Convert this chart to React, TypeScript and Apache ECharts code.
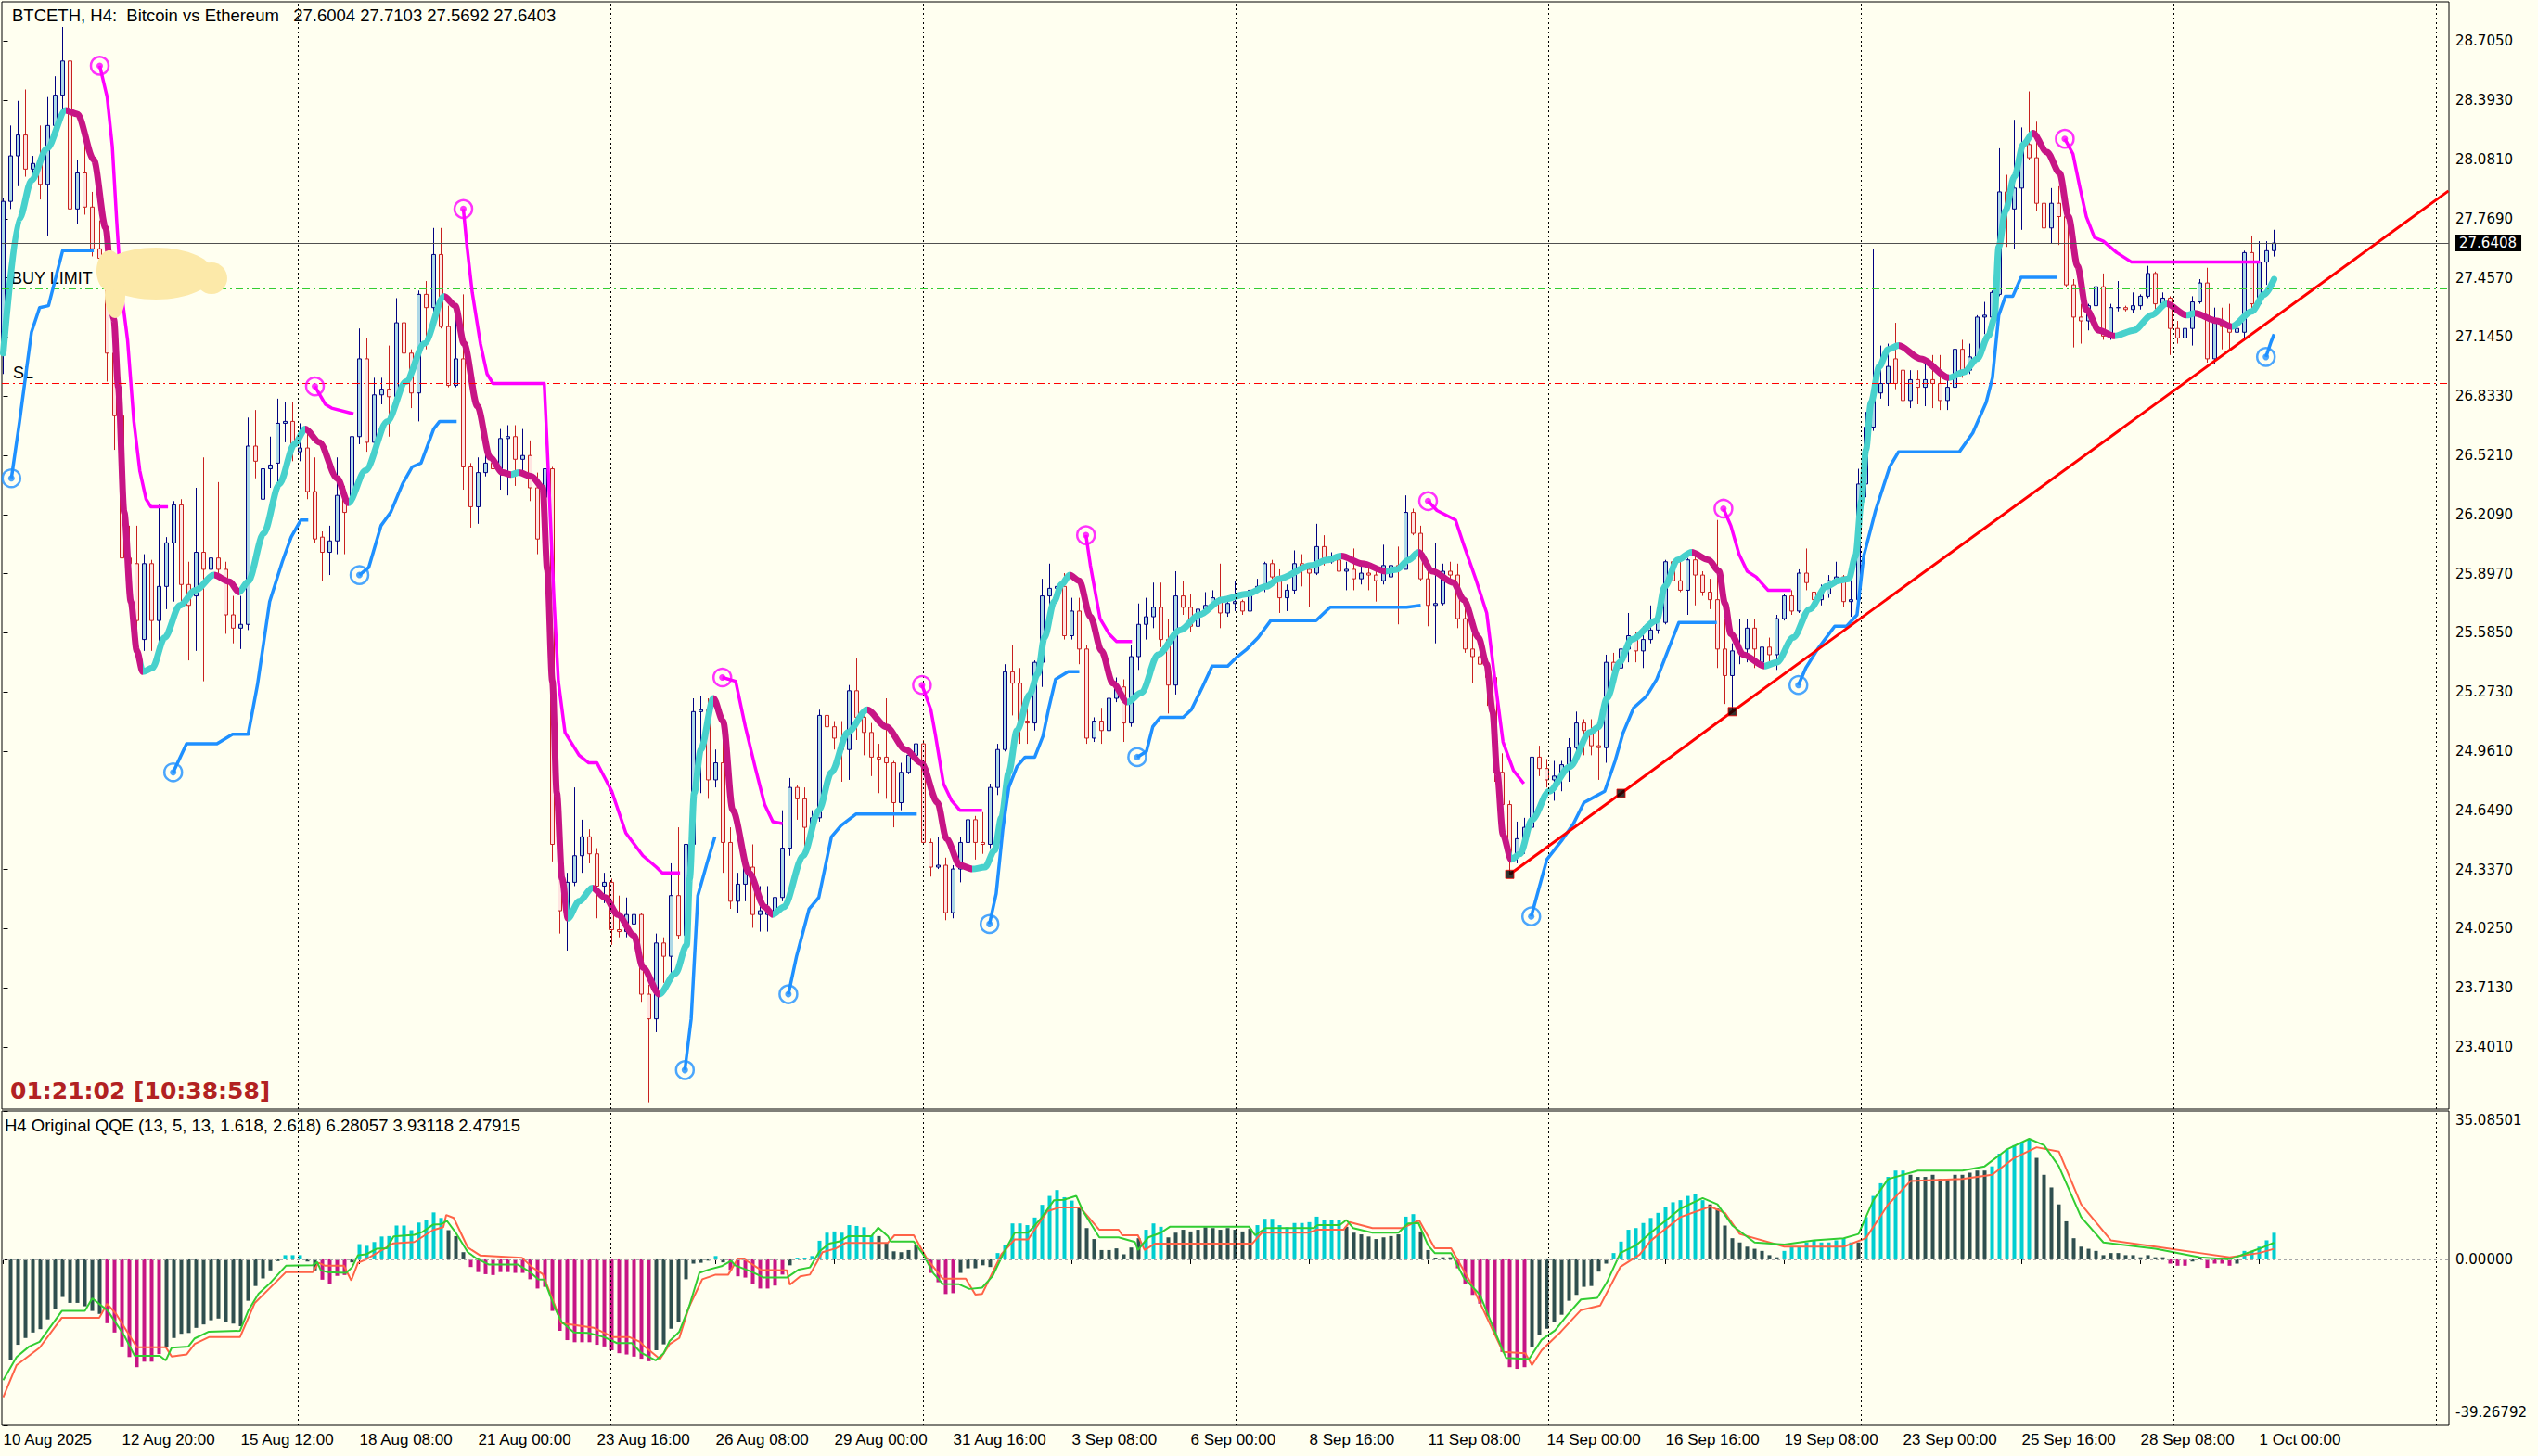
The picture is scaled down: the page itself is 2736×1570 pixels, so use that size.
import React, { useEffect, useRef } from "react";
import * as echarts from "echarts";

const BG = "#FFFFF0";
const XMIN = -0.1875;
const XMAX = 329.5625;
const PMIN = 23.074;
const PMAX = 28.912;
const QMIN = -39.26792;
const QMAX = 35.08501;

const titleText = "BTCETH, H4:  Bitcoin vs Ethereum   27.6004 27.7103 27.5692 27.6403";
const qqeTitle = "H4 Original QQE (13, 5, 13, 1.618, 2.618) 6.28057 3.93118 2.47915";
const timerText = "01:21:02 [10:38:58]";

const dateLabels = ["10 Aug 2025","12 Aug 20:00","15 Aug 12:00","18 Aug 08:00","21 Aug 00:00","23 Aug 16:00","26 Aug 08:00","29 Aug 00:00","31 Aug 16:00","3 Sep 08:00","6 Sep 00:00","8 Sep 16:00","11 Sep 08:00","14 Sep 00:00","16 Sep 16:00","19 Sep 08:00","23 Sep 00:00","25 Sep 16:00","28 Sep 08:00","1 Oct 00:00"];
const dateLabelBars = [0,16,32,48,64,80,96,112,128,144,160,176,192,208,224,240,256,272,288,304];
const priceTicks = [28.705,28.393,28.081,27.769,27.457,27.145,26.833,26.521,26.209,25.897,25.585,25.273,24.961,24.649,24.337,24.025,23.713,23.401];
const qqeTicks = [35.08501, 0, -39.26792];
const gridBars = [39.69,81.81,123.94,166.06,208.19,250.31,292.44,327.9];
const lastPrice = 27.6408;
const buyLimit = 27.40;
const stopLoss = 26.90;

// [open, high, low, close] per H4 bar
const ohlc = [
[27.06,27.88,26.95,27.86],[27.86,28.26,27.82,28.10],[28.10,28.39,27.94,28.21],[28.21,28.45,27.99,28.03],[28.03,28.10,27.99,28.06],
[28.06,28.26,27.87,27.95],[27.95,28.41,27.68,28.26],[28.26,28.52,28.22,28.42],[28.42,28.78,28.34,28.60],[28.60,28.64,27.57,27.82],
[27.82,28.08,27.74,28.01],[28.01,28.21,27.79,27.83],[27.83,27.91,27.57,27.61],[27.61,27.76,27.53,27.56],[27.56,27.60,26.91,27.06],
[27.06,27.10,26.55,26.73],[26.73,26.78,25.89,25.98],[25.98,26.15,25.82,25.95],[25.95,26.15,25.53,25.65],[25.55,26.00,25.49,25.95],
[25.95,25.97,25.49,25.65],[25.65,26.26,25.47,25.83],[25.83,26.09,25.71,26.06],[26.06,26.28,25.75,26.26],[26.26,26.29,25.75,25.84],
[25.84,25.96,25.44,25.73],[25.78,26.35,25.49,26.01],[26.01,26.51,25.33,25.92],[25.92,26.18,25.89,25.98],[25.98,26.38,25.89,25.92],
[25.92,25.96,25.58,25.68],[25.68,25.78,25.53,25.61],[25.61,25.78,25.50,25.63],[25.63,26.72,25.60,26.57],[26.57,26.76,26.40,26.49],
[26.29,26.53,26.24,26.45],[26.45,26.62,26.35,26.47],[26.48,26.82,26.38,26.69],[26.69,26.80,26.59,26.70],[26.70,26.80,26.49,26.58],
[26.54,26.69,26.49,26.56],[26.56,26.67,26.29,26.33],[26.33,26.51,26.06,26.08],[26.09,26.12,25.86,26.01],[26.01,26.15,25.89,26.07],
[26.07,26.51,26.00,26.31],[26.30,26.36,26.00,26.22],[26.29,26.91,26.26,26.62],[26.62,27.19,26.58,27.03],[27.03,27.14,26.54,26.59],
[26.59,26.93,26.49,26.84],[26.84,26.93,26.79,26.87],[26.87,27.10,26.62,26.83],[26.83,27.35,26.79,27.22],[27.22,27.30,27.00,27.06],
[27.06,27.08,26.77,26.85],[26.85,27.39,26.70,27.37],[27.37,27.44,27.08,27.30],[27.30,27.72,27.20,27.58],[27.58,27.72,27.19,27.20],
[27.20,27.31,26.88,26.89],[26.89,27.28,26.88,27.03],[27.03,27.37,26.34,26.46],[26.46,26.48,26.14,26.25],[26.25,26.51,26.16,26.43],
[26.43,26.57,26.41,26.48],[26.48,26.59,26.37,26.45],[26.45,26.66,26.34,26.61],[26.61,26.68,26.31,26.62],[26.62,26.68,26.36,26.50],
[26.50,26.66,26.42,26.52],[26.52,26.60,26.28,26.35],[26.35,26.43,26.00,26.08],[26.30,26.55,26.05,26.45],[26.45,26.46,24.38,24.47],
[24.47,24.50,24.00,24.12],[24.12,24.32,23.91,24.27],[24.27,24.77,24.25,24.41],[24.41,24.60,24.32,24.51],[24.51,24.55,24.37,24.42],
[24.42,24.45,24.08,24.25],[24.25,24.32,24.16,24.27],[24.27,24.29,23.94,24.02],[24.02,24.20,23.98,24.01],[24.01,24.19,23.98,24.10],
[24.05,24.29,23.99,24.10],[24.10,24.11,23.64,23.68],[23.68,23.73,23.11,23.55],[23.55,24.00,23.48,23.95],[23.95,23.98,23.74,23.88],
[23.88,24.37,23.79,24.20],[24.20,24.56,23.97,23.99],[23.99,24.50,23.95,24.47],[24.47,25.24,24.44,25.17],[25.17,25.25,24.74,25.18],
[25.18,25.24,24.71,24.81],[24.81,24.97,24.77,24.90],[24.90,25.09,24.32,24.48],[24.48,24.56,24.13,24.17],[24.17,24.32,24.11,24.26],
[24.26,24.44,24.17,24.35],[24.35,24.47,24.03,24.10],[24.10,24.25,24.01,24.12],[24.10,24.25,24.01,24.14],[24.10,24.26,23.99,24.19],
[24.19,24.65,24.17,24.45],[24.45,24.82,24.41,24.77],[24.77,24.78,24.60,24.71],[24.71,24.77,24.44,24.56],[24.56,24.65,24.53,24.61],
[24.61,25.18,24.59,25.15],[25.15,25.25,24.99,25.09],[25.09,25.12,24.97,25.03],[25.03,25.12,24.80,24.97],[24.97,25.31,24.81,25.28],
[25.28,25.45,25.02,25.14],[25.14,25.15,24.94,25.06],[25.06,25.11,24.83,24.93],[24.93,25.00,24.74,24.92],[24.93,25.24,24.71,24.90],
[24.90,24.91,24.56,24.69],[24.69,24.90,24.65,24.85],[24.85,24.97,24.84,24.94],[24.94,25.05,24.90,25.00],[25.00,25.02,24.47,24.48],
[24.48,24.50,24.30,24.35],[24.35,24.51,24.34,24.36],[24.36,24.40,24.07,24.11],[24.11,24.36,24.08,24.34],[24.34,24.51,24.27,24.48],
[24.48,24.70,24.35,24.60],[24.60,24.62,24.39,24.48],[24.48,24.64,24.42,24.47],[24.47,24.79,24.45,24.77],[24.77,25.00,24.73,24.97],
[24.97,25.42,24.96,25.38],[25.38,25.52,25.15,25.32],[25.32,25.40,25.00,25.12],[25.12,25.26,25.00,25.11],[25.11,25.44,25.07,25.43],
[25.43,25.87,25.30,25.78],[25.78,25.95,25.71,25.82],[25.82,25.85,25.64,25.83],[25.83,25.90,25.55,25.57],[25.57,25.77,25.55,25.70],
[25.70,25.77,25.42,25.50],[25.50,25.52,25.00,25.03],[25.03,25.14,25.01,25.12],[25.12,25.19,25.00,25.07],[25.07,25.34,25.00,25.24],
[25.24,25.35,25.22,25.30],[25.30,25.34,25.01,25.11],[25.11,25.52,25.09,25.46],[25.46,25.74,25.39,25.63],[25.63,25.77,25.55,25.67],
[25.67,25.85,25.61,25.72],[25.72,25.85,25.51,25.55],[25.55,25.66,25.16,25.31],[25.31,25.91,25.26,25.78],[25.78,25.86,25.68,25.72],
[25.72,25.79,25.59,25.62],[25.62,25.75,25.59,25.71],[25.71,25.80,25.68,25.73],[25.73,25.81,25.71,25.77],[25.77,25.95,25.61,25.69],
[25.69,25.78,25.67,25.74],[25.74,25.86,25.70,25.75],[25.75,25.76,25.68,25.70],[25.70,25.82,25.69,25.81],[25.81,25.87,25.80,25.83],
[25.83,25.96,25.80,25.95],[25.95,25.97,25.87,25.88],[25.88,25.92,25.69,25.77],[25.77,25.84,25.70,25.81],[25.81,26.02,25.79,25.95],
[25.95,26.00,25.83,25.92],[25.92,25.94,25.72,25.90],[25.90,26.16,25.89,26.04],[26.04,26.10,25.94,25.96],[25.96,26.01,25.95,25.97],
[25.97,26.00,25.81,25.91],[25.91,25.96,25.81,25.92],[25.92,26.03,25.81,25.87],[25.87,25.94,25.84,25.90],[25.90,25.94,25.81,25.89],
[25.89,25.91,25.75,25.86],[25.86,26.05,25.84,25.94],[25.88,26.01,25.81,25.94],[25.94,26.04,25.63,25.92],[25.92,26.31,25.92,26.22],
[26.22,26.24,26.10,26.11],[26.11,26.15,25.86,25.87],[25.87,25.92,25.62,25.73],[25.73,26.06,25.53,25.74],[25.74,25.95,25.73,25.91],
[25.91,25.96,25.87,25.89],[25.89,25.95,25.61,25.66],[25.66,25.73,25.48,25.50],[25.50,25.60,25.32,25.46],[25.46,25.47,25.37,25.42],
[25.42,25.44,25.20,25.35],[25.35,25.36,24.80,24.85],[24.85,24.95,24.62,24.68],[24.68,24.70,24.31,24.40],[24.40,24.59,24.37,24.50],
[24.50,24.61,24.42,24.56],[24.56,25.00,24.55,24.93],[24.93,24.99,24.83,24.87],[24.87,24.92,24.77,24.81],[24.81,24.91,24.70,24.83],
[24.83,24.91,24.75,24.89],[24.89,25.03,24.80,24.98],[24.98,25.17,24.94,25.11],[25.11,25.13,24.94,25.07],[25.07,25.13,24.94,24.99],
[24.99,25.08,24.81,24.98],[24.98,25.47,24.90,25.43],[25.43,25.48,25.30,25.39],[25.40,25.63,25.30,25.50],[25.50,25.69,25.43,25.57],
[25.57,25.59,25.43,25.49],[25.49,25.62,25.40,25.55],[25.55,25.73,25.53,25.60],[25.60,25.70,25.58,25.65],[25.64,25.97,25.63,25.96],
[25.96,26.00,25.85,25.86],[25.86,25.98,25.80,25.81],[25.81,25.98,25.68,25.97],[25.97,26.00,25.73,25.89],[25.89,25.91,25.78,25.80],
[25.80,25.87,25.71,25.76],[25.76,26.18,25.40,25.50],[25.50,25.66,25.21,25.36],[25.36,25.53,25.17,25.49],[25.49,25.66,25.42,25.50],
[25.50,25.66,25.43,25.61],[25.61,25.66,25.40,25.50],[25.43,25.53,25.39,25.51],[25.51,25.56,25.43,25.47],[25.47,25.68,25.39,25.66],
[25.66,25.79,25.65,25.78],[25.78,25.81,25.68,25.70],[25.70,25.92,25.69,25.90],[25.90,26.03,25.81,25.85],[25.80,26.00,25.74,25.76],
[25.76,25.84,25.73,25.80],[25.79,25.89,25.77,25.86],[25.86,25.96,25.84,25.88],[25.88,25.89,25.72,25.75],[25.75,25.91,25.67,25.76],
[25.76,26.45,25.75,26.37],[26.37,26.75,26.30,26.67],[26.67,27.61,26.65,26.85],[26.85,27.10,26.82,26.90],[26.90,27.11,26.78,26.99],
[27.03,27.22,26.87,26.90],[26.97,26.98,26.74,26.81],[26.81,26.97,26.77,26.92],[26.92,26.97,26.79,26.88],[26.88,27.01,26.78,26.92],
[26.92,27.05,26.77,26.90],[26.90,27.05,26.76,26.81],[26.81,26.93,26.76,26.88],[26.88,27.31,26.80,27.08],[27.08,27.13,26.93,26.97],
[26.97,27.11,26.95,27.04],[27.04,27.26,27.02,27.25],[27.25,27.33,27.16,27.26],[27.25,27.39,27.16,27.38],[27.37,28.14,27.36,27.91],
[27.91,28.00,27.62,27.82],[27.82,28.29,27.61,27.93],[27.93,28.25,27.71,28.14],[28.16,28.44,28.08,28.09],[28.09,28.28,27.81,27.85],
[27.85,27.91,27.56,27.72],[27.72,27.93,27.64,27.85],[27.85,27.94,27.63,27.78],[27.78,27.83,27.41,27.42],[27.42,27.45,27.09,27.25],
[27.25,27.32,27.11,27.23],[27.23,27.32,27.18,27.31],[27.31,27.44,27.23,27.41],[27.41,27.48,27.13,27.15],[27.15,27.32,27.13,27.30],
[27.30,27.44,27.28,27.30],[27.30,27.31,27.28,27.29],[27.29,27.38,27.27,27.31],[27.31,27.37,27.29,27.36],[27.36,27.52,27.35,27.48],
[27.48,27.49,27.29,27.32],[27.32,27.38,27.31,27.35],[27.35,27.36,27.05,27.19],[27.19,27.23,27.11,27.14],[27.14,27.22,27.13,27.19],
[27.19,27.36,27.10,27.33],[27.33,27.45,27.32,27.43],[27.43,27.51,27.01,27.03],[27.03,27.30,27.00,27.22],[27.22,27.30,27.08,27.20],
[27.20,27.32,27.08,27.17],[27.17,27.27,27.12,27.19],[27.17,27.60,27.14,27.59],[27.59,27.68,27.29,27.32],[27.32,27.65,27.31,27.54],
[27.54,27.65,27.42,27.60],[27.6004,27.7103,27.5692,27.6403]
];

// smoothed trend line (bar, price); colour flips at maTurns
const maLine = [
[0,27.06],[2.2,27.77],[3.8,27.97],[5.9,28.14],[8.4,28.34],[10,28.32],[12.2,28.08],[13.8,27.72],[14.9,27.24],[15.5,26.88],[16.3,26.22],[17.2,25.75],[18,25.49],[18.8,25.38],
[20.1,25.40],[21.75,25.56],[23.8,25.73],[25.9,25.81],[28.4,25.89],[30.5,25.855],[31.75,25.80],[33,25.855],[35.1,26.11],[37.2,26.37],[39.25,26.58],[40.7,26.66],
[42.6,26.59],[45,26.40],[46.5,26.27],[48.8,26.44],[51.75,26.70],[54.25,26.91],[56.75,27.11],[59.4,27.36],[60.9,27.31],[62.1,27.11],[63.9,26.78],[65.6,26.51],
[67.3,26.43],[68.4,26.42],[69.5,26.43],[71.2,26.41],[72.7,26.35],[73.3,25.92],[74,25.33],[74.6,24.74],[75.3,24.29],[76.1,24.08],[77.6,24.17],[79.4,24.24],
[81.1,24.19],[82.8,24.10],[85,23.99],[86.2,23.82],[88.4,23.68],[90.6,23.79],[92.1,23.94],[92.5,24.29],[93.1,24.74],[94,24.97],[95.7,25.24],[97,25.12],
[98.3,24.65],[100.5,24.32],[102.6,24.14],[103.7,24.10],[105.2,24.14],[107.8,24.41],[109.9,24.65],[111.6,24.85],[113.8,25.06],[116.4,25.18],[119,25.09],
[121.6,24.97],[123.7,24.90],[125.9,24.69],[127.1,24.50],[128.9,24.36],[130.6,24.34],[132.3,24.35],[133.6,24.44],[134.5,24.61],[135.5,24.85],[136.6,25.07],
[138.3,25.26],[139.4,25.37],[140.3,25.56],[141.6,25.75],[142.6,25.84],[143.7,25.89],[145,25.86],[146.5,25.67],[148,25.49],[149.5,25.32],[151.5,25.22],
[153.4,25.27],[155.6,25.47],[158.6,25.60],[161.2,25.68],[164.2,25.76],[167.6,25.79],[170.2,25.83],[171.9,25.87],[176.2,25.94],[178.4,25.97],[180.3,25.99],
[183.1,25.95],[186.3,25.91],[187.8,25.92],[189.4,25.97],[190.7,26.01],[192.6,25.91],[195.4,25.85],[196.8,25.76],[198.8,25.56],[199.9,25.42],[200.7,25.17],
[201.3,24.85],[202.1,24.52],[203.2,24.39],[204.4,24.42],[206,24.60],[208.3,24.75],[211.1,24.88],[213.8,25.06],[215,25.09],[216.1,25.24],[217.8,25.43],
[219.4,25.55],[222.8,25.65],[223.9,25.83],[225.6,25.97],[227.5,26.01],[229.8,25.97],[231.2,25.91],[232,25.74],[232.8,25.58],[234.5,25.47],[237.3,25.41],
[239,25.43],[241.2,25.56],[243.4,25.71],[245.7,25.83],[247.3,25.86],[248.7,25.87],[249.6,25.99],[250.4,26.28],[251,26.55],[251.7,26.80],[252.8,26.99],
[254,27.08],[255.4,27.10],[258.4,27.03],[262.2,26.93],[264.2,26.96],[266,27.03],[267.5,27.15],[268.3,27.24],[268.9,27.62],[269.8,27.81],[271,27.99],
[272.2,28.16],[273.5,28.22],[275.4,28.12],[277.1,28.01],[278.3,27.78],[279.5,27.52],[280.7,27.29],[282.4,27.18],[284.5,27.15],[287.1,27.18],[289.5,27.26],
[291.5,27.32],[294.2,27.26],[295.3,27.27],[298.3,27.23],[300.3,27.20],[303,27.28],[304.7,27.37],[306,27.45]
];
const maTurns = [8.4,18.8,28.4,31.75,40.7,46.5,59.4,68.4,69.5,76.1,79.4,88.4,95.7,103.7,116.4,130.6,143.7,151.5,180.3,186.3,190.7,203.2,227.5,237.3,255.4,262.2,273.5,284.5,291.5,294.2,295.3,300.3];

// upper trailing band segments (magenta)
const upperBands = [
[[13,28.575],[14,28.41],[14.7,28.15],[15.3,27.75],[15.9,27.39],[16.75,27.13],[17.6,26.70],[18.4,26.44],[19.25,26.29],[19.9,26.25],[22.2,26.25]],
[[42,26.885],[43.4,26.79],[44.25,26.77],[47.2,26.74]],
[[62,27.82],[62.5,27.62],[63.2,27.38],[64.3,27.11],[65.2,26.95],[66,26.90],[72.9,26.90],[73.3,26.57],[74.2,25.77],[74.8,25.33],[75.7,25.06],[77.6,24.94],[78.9,24.90],[80,24.90],[82,24.75],[83.9,24.53],[86.2,24.41],[88,24.35],[88.8,24.32],[91.2,24.32]],
[[96.9,25.35],[98.7,25.33],[100,25.09],[101.3,24.88],[102.6,24.68],[103.7,24.59],[105,24.58]],
[[123.8,25.31],[125,25.18],[125.6,25.05],[126.7,24.79],[127.8,24.70],[128.9,24.65],[131.9,24.65]],
[[145.9,26.10],[146.5,25.94],[147.8,25.66],[149,25.58],[150,25.54],[152.1,25.54]],
[[192,26.28],[193.2,26.23],[195.7,26.18],[196.8,26.05],[198.5,25.86],[199.9,25.69],[201,25.34],[202.1,25.01],[203.5,24.86],[204.9,24.79]],
[[231.8,26.24],[232.8,26.15],[233.9,26.00],[235,25.91],[236.2,25.88],[237.8,25.81],[240.9,25.81]],
[[277.8,28.19],[278.9,28.11],[279.8,27.94],[280.7,27.78],[281.8,27.67],[283,27.65],[284.8,27.59],[286.8,27.54],[304.1,27.54]]
];

// lower trailing band segments (blue)
const lowerBands = [
[[1.1,26.40],[2.2,26.70],[3.8,27.17],[4.9,27.30],[6.1,27.31],[8,27.60],[12.2,27.60]],
[[22.9,24.85],[24.7,25.00],[28.8,25.00],[30.9,25.05],[33,25.05],[34.25,25.31],[35.9,25.75],[37.6,25.96],[38.8,26.09],[40.1,26.18],[41.1,26.18]],
[[48,25.89],[49.25,25.93],[50.9,26.15],[52.2,26.22],[53.8,26.37],[55.1,26.46],[56.3,26.48],[58,26.66],[58.8,26.70],[61.1,26.70]],
[[91.85,23.28],[92.7,23.55],[93.6,24.20],[94.9,24.38],[95.9,24.51]],
[[105.8,23.68],[106.9,23.88],[108.6,24.13],[109.9,24.19],[111.6,24.51],[112.9,24.57],[114.9,24.63],[123.1,24.63]],
[[132.9,24.05],[133.8,24.21],[134.7,24.55],[135.5,24.77],[136.6,24.88],[137.7,24.93],[139,24.93],[140.1,25.04],[140.9,25.19],[141.8,25.34],[143.5,25.38],[145,25.38]],
[[152.8,24.93],[154.05,24.96],[154.9,25.09],[155.9,25.14],[159,25.14],[160.1,25.18],[161.6,25.30],[162.9,25.41],[165,25.41],[166.3,25.46],[167.6,25.50],[169.1,25.56],[170.8,25.65],[176.9,25.65],[178.8,25.72],[189.1,25.72],[191,25.73]],
[[205.9,24.09],[206.6,24.19],[208,24.39],[210,24.49],[211.6,24.58],[213,24.69],[214.4,24.72],[215.8,24.75],[217.2,24.91],[218.3,25.06],[219.7,25.19],[221.4,25.25],[222.8,25.34],[224.2,25.48],[225.8,25.64],[230.9,25.64]],
[[241.9,25.31],[242.9,25.40],[244.5,25.50],[246.8,25.62],[248.4,25.62],[249.8,25.68],[250.7,25.99],[252.3,26.23],[254.2,26.46],[255.4,26.54],[263.6,26.54],[265.4,26.64],[267.2,26.80],[268.05,26.93],[268.9,27.26],[269.8,27.36],[270.8,27.36],[271.9,27.46],[276.8,27.46]],
[[304.9,27.04],[305.6,27.12],[306,27.16]]
];

// trend line anchors (bar, price) and its ray end at the right edge
const trendAnchors = [[203,24.312],[218,24.739],[233,25.17]];
const trendEnd = [329.5,27.915];

// QQE histogram values per bar and colour runs (start bar, code)
const qqeHist = [
null,-23.9,-20.2,-18.6,-17.3,-16.5,-14.2,-11.8,-8.9,-10.3,
-10.3,-11.1,-12.2,-12.9,-15.1,-17.3,-20.6,-23.1,-25.5,-24.2,
-24.2,-22.4,-20.8,-18.6,-17.6,-17.4,-16.2,-15.4,-14.4,-14.0,
-14.7,-15.2,-15.8,-9.8,-6.3,-4.5,-2.6,-0.4,1.0,1.0,
1.0,-0.5,-2.6,-4.8,-5.9,-3.9,-3.7,-0.7,3.6,3.2,
4.1,5.4,5.5,8.0,8.0,6.9,8.7,9.4,11.1,9.8,
6.9,5.5,1.7,-1.8,-3.0,-3.5,-3.7,-3.0,-3.0,-3.2,
-3.2,-4.7,-6.9,-6.5,-12.2,-16.9,-19.1,-19.6,-19.6,-19.6,
-20.2,-20.6,-21.5,-22.2,-22.5,-23.0,-23.5,-24.1,-21.5,-20.1,
-16.4,-14.9,-4.7,-1.0,-0.8,-0.3,0.8,-0.7,-2.5,-4.0,
-4.3,-5.8,-6.9,-6.9,-6.2,-3.6,-1.4,0.2,0.4,0.8,
4.4,6.3,6.6,6.3,8.1,7.9,7.6,5.7,5.5,3.9,
1.9,1.7,2.2,3.3,-0.2,-3.2,-5.4,-8.2,-8.0,-3.2,
-2.1,-2.1,-1.4,-1.8,1.5,3.3,8.5,8.5,8.1,9.9,
12.9,15.0,16.4,14.7,13.9,12.3,7.4,4.8,2.2,2.2,
2.6,1.2,2.8,5.0,7.0,8.5,7.7,5.2,6.3,7.0,
6.6,7.0,7.6,7.4,7.0,7.4,7.0,6.6,7.2,8.1,
9.6,9.6,8.1,7.6,8.6,8.6,8.8,10.1,9.2,9.3,
9.2,7.7,6.3,5.9,5.4,4.8,5.2,5.5,5.9,10.1,
10.7,6.6,2.2,0.4,0.5,0.5,-2.1,-5.8,-8.4,-10.5,
-13.5,-17.9,-21.9,-25.5,-25.9,-25.5,-20.8,-17.9,-16.4,-14.9,
-13.1,-9.8,-8.4,-6.5,-6.3,-2.9,-1.0,1.5,4.2,7.0,
7.4,8.6,9.8,11,12.5,13.5,14,15,15.5,14,
13,12,8,5,4,3,2.5,2,1,0.5,
2,3,3,4,4.5,4,4,4.5,5,4,
4,10,15,18,19.5,21,21,20,19.5,19.5,
20,19,19,20,20,20.5,21,21,22,25,
26,27,27.5,28.5,24,20,17,13,9,5,
3,2.5,2,1,1.5,1.5,1,1,0.5,1,
0.5,0.5,-1,-1.5,-1.5,-0.5,0.5,-2,-1,-1,
-1.5,-1,2,2,3,4.5,6.28
];
const qqeColorRuns = [[0,"d"],[14,"m"],[22,"d"],[38,"c"],[41,"d"],[43,"m"],[47,"d"],[48,"c"],[60,"d"],[63,"m"],[88,"d"],[96,"c"],[97,"d"],[98,"m"],[106,"d"],[107,"c"],[118,"d"],[125,"m"],[129,"d"],[134,"c"],[145,"d"],[154,"c"],[157,"d"],[169,"c"],[181,"d"],[189,"c"],[191,"d"],[196,"m"],[206,"d"],[217,"c"],[230,"d"],[240,"c"],[250,"d"],[251,"c"],[257,"d"],[268,"c"],[274,"d"],[292,"m"],[295,"d"],[297,"m"],[301,"d"],[302,"c"]];

const qqeFast = [
[0,-28.6],[1.8,-23.1],[3.5,-20.6],[4.9,-19.5],[7.9,-12.2],[11,-12.2],[12,-9.2],[14.1,-12.2],[16.3,-18.0],[17.7,-22.8],[21.1,-22.8],[21.9,-23.9],[22.7,-20.9],
[24.95,-20.6],[25.8,-18.7],[27.7,-17.1],[31.9,-16.9],[33,-12.2],[34.4,-8.1],[35.8,-5.9],[38.1,-1.5],[41.7,-1.4],[42.3,-0.6],[42.8,-2.6],[43.65,-3.0],
[46.2,-3.2],[47,-1.9],[47.8,1.0],[48.9,1.2],[50.3,2.5],[51.7,2.6],[52.6,5.4],[55.4,5.8],[56.5,6.5],[57.9,8.2],[59,8.3],[59.8,9.1],[60.9,6.5],[62.6,1.7],
[63.7,0.3],[65.4,-1.2],[69.3,-1.2],[71,-3.0],[72.1,-4.7],[72.9,-4.8],[74.3,-11.4],[75.2,-14.7],[76.9,-17.3],[78.8,-17.4],[81,-18.4],[82.7,-19.8],
[84.7,-19.8],[85.9,-22.0],[87.9,-23.9],[89,-22.2],[89.8,-19.3],[91.1,-17.1],[92.4,-11.3],[93.8,-3.2],[95.1,-2.4],[96.8,-1.6],[98.1,-0.3],[98.6,-1.4],
[100.8,-2.9],[102.5,-4.3],[105.6,-4.3],[107.2,-2.4],[108.7,-1.9],[110,1.9],[111.3,3.7],[112.6,4.2],[113.9,5.5],[117,5.5],[117.9,7.5],[119.2,5.5],
[119.6,4.2],[122.7,4.2],[124,1.1],[125.3,-3.2],[126.6,-5.8],[128.8,-5.9],[130.2,-7.0],[131.9,-6.7],[133.3,-4.0],[135,2.2],[136.3,6.3],[138.1,6.3],
[139.8,9.6],[141.6,14.0],[142.9,14.1],[144.6,15.0],[145.5,11.4],[147.7,5.2],[150.3,5.2],[152.5,4.1],[152.9,2.2],[154.3,5.2],[156,6.3],[157.2,7.7],
[167.9,7.7],[168.7,5.7],[170.1,7.4],[176.6,7.4],[177.1,8.1],[180.1,8.1],[181,9.3],[181.9,7.4],[184.5,6.3],[188,6.3],[189.3,8.5],[190.7,8.6],[192,3.3],
[192.9,1.5],[195.1,1.5],[196.8,-4.3],[199,-8.4],[201.2,-17.9],[202.5,-23.3],[205.6,-23.6],[207.3,-19.0],[209.1,-16.8],[210.8,-13.1],[212.6,-9.5],
[214.8,-9.1],[216.1,-5.4],[217.9,1.5],[220,3.3],[222,6.3],[226,12],[229,14.5],[231,13],[233,8],[236,4],[240,3.5],[244,4.5],[248,5],[250,6],
[252,14],[254,19],[258,21],[264,21],[267,22],[270,26],[273,28.5],[275,27],[277,22],[280,10],[283,4],[290,2.5],[296,0.5],[300,0],[304,2.5],[306,3.93]
];
const qqeSlow = [
[0,-32.6],[1.8,-25.0],[4.9,-20.9],[7.9,-13.8],[12.95,-13.8],[14,-10.5],[15.2,-12.9],[18,-20.8],[21.9,-20.8],[22.7,-23.0],[24.7,-22.5],[25.8,-20.0],
[27.7,-18.4],[31.9,-18.4],[33.9,-10.3],[35.8,-7.0],[38.1,-3.0],[41.7,-3.0],[42.5,-0.8],[43.4,-1.5],[45.9,-1.5],[46.9,-5.0],[47.8,-0.8],[48.9,0.0],
[52.6,3.8],[55.4,4.1],[57.9,6.9],[59.3,7.6],[59.7,10.5],[60.7,9.8],[62.6,2.8],[64.3,0.9],[69.9,0.4],[71.3,-1.9],[72.7,-3.5],[74.3,-10.7],[75.2,-15.1],
[79.6,-16.2],[82.2,-18.4],[84.4,-18.4],[85.8,-19.5],[86.3,-20.4],[88.5,-23.6],[89.8,-20.05],[91.1,-18.6],[92.4,-11.3],[94.2,-4.7],[96,-3.6],[97.7,-3.6],
[99,0.2],[99.9,0.0],[102.1,-2.5],[105.6,-2.6],[106,-6.0],[107.4,-4.0],[108.7,-3.6],[110.4,1.7],[112.2,2.6],[113.5,3.9],[119.2,3.9],[120.1,5.7],[122.7,5.7],
[124.5,0.05],[126.6,-4.55],[129.7,-4.55],[131,-8.35],[131.9,-8.2],[134.5,1.2],[136.3,4.7],[138.1,4.7],[140.7,11.4],[142.4,12.3],[145.1,12.3],[147.7,7.0],
[150.3,7.0],[150.8,5.7],[152.9,5.7],[153.8,2.2],[155.2,3.7],[168.3,3.7],[169.6,6.3],[175.8,6.3],[177.1,7.0],[180.6,7.0],[181.4,8.8],[184.5,7.4],
[188.5,7.4],[190.8,9.2],[192.9,2.6],[195.1,2.6],[197.7,-5.4],[202.1,-21.9],[205.1,-22.2],[206,-25.0],[207.3,-21.5],[209.9,-17.1],[212.6,-12.0],
[215.2,-10.9],[217.9,-1.8],[220.5,1.1],[222,4.4],[226,10],[230,12.5],[232,11],[234,6],[240,3],[248,3],[251,5],[254,13],[257,18.5],[264,19],
[268,20],[271,24],[274,26.5],[277,25.5],[280,13],[284,4.5],[290,3],[296,1.5],[300,0.5],[304,1.5],[306,2.48]
];

const COL = {
  bullFill: "#ADD8E6", bullLine: "#000080", bearFill: "#FFE4E1", bearLine: "#C8201E",
  maUp: "#48D1CC", maDown: "#C71585", upper: "#FF00FF", lower: "#1E90FF",
  histD: "#2F4F4F", histM: "#C71585", histC: "#00CED1", fast: "#32CD32", slow: "#FF6347",
};

function histColor(i: number) {
  let code = "d";
  for (const [s, c] of qqeColorRuns as [number, string][]) if (i >= s) code = c;
  return code === "m" ? COL.histM : code === "c" ? COL.histC : COL.histD;
}

function buildOption() {
  const candleData = ohlc.map((d, i) => [i, d[0], d[3], d[2], d[1]]);
  const series: any[] = [];
  const vLines = gridBars.map((b) => ({ xAxis: b }));
  const dotted = { color: "#000", type: [2, 3], width: 1 };

  series.push({
    type: "candlestick", xAxisIndex: 0, yAxisIndex: 0, data: candleData,
    encode: { x: 0, y: [1, 2, 3, 4] }, barWidth: 5, z: 2,
    itemStyle: { color: COL.bullFill, color0: COL.bearFill, borderColor: COL.bullLine, borderColor0: COL.bearLine, borderWidth: 1 },
    markLine: {
      silent: true, symbol: ["none", "none"], label: { show: false }, animation: false,
      data: [
        ...vLines.map((v) => ({ ...v, lineStyle: dotted })),
        { yAxis: lastPrice, lineStyle: { color: "#505050", type: "solid", width: 1 } },
        { yAxis: buyLimit, lineStyle: { color: "#32CD32", type: [8, 4, 2, 4], width: 1 } },
        { yAxis: stopLoss, lineStyle: { color: "#FF0000", type: [8, 4, 2, 4], width: 1 } },
      ],
    },
  });

  const maIndex = series.length;
  series.push({
    type: "line", xAxisIndex: 0, yAxisIndex: 0, data: maLine, smooth: 0.3, smoothMonotone: "x",
    symbol: "none", z: 4, lineStyle: { width: 7, cap: "round", join: "round" },
  });

  upperBands.forEach((seg) => series.push({
    type: "line", xAxisIndex: 0, yAxisIndex: 0, data: seg, symbol: "none", z: 5,
    lineStyle: { color: COL.upper, width: 3.5, join: "round" },
  }));
  lowerBands.forEach((seg) => series.push({
    type: "line", xAxisIndex: 0, yAxisIndex: 0, data: seg, symbol: "none", z: 5,
    lineStyle: { color: COL.lower, width: 3.5, join: "round" },
  }));

  const ring = (pts: number[][], color: string) => [
    { type: "scatter", xAxisIndex: 0, yAxisIndex: 0, data: pts, symbol: "circle", symbolSize: 19, z: 6,
      itemStyle: { color: "rgba(0,0,0,0)", borderColor: color, borderWidth: 2.5 } },
    { type: "scatter", xAxisIndex: 0, yAxisIndex: 0, data: pts, symbol: "circle", symbolSize: 7, z: 6,
      itemStyle: { color } },
  ];
  series.push(...ring(upperBands.map((s) => s[0]), COL.upper));
  series.push(...ring(lowerBands.map((s) => s[0]), COL.lower));

  series.push({
    type: "line", xAxisIndex: 0, yAxisIndex: 0, data: [...trendAnchors, trendEnd], symbol: "none", z: 7,
    lineStyle: { color: "#FF0000", width: 3 },
  });
  series.push({
    type: "scatter", xAxisIndex: 0, yAxisIndex: 0, data: trendAnchors, symbol: "rect", symbolSize: 9, z: 8,
    itemStyle: { color: "#000", borderColor: "#FF0000", borderWidth: 1 },
  });

  series.push({
    type: "bar", xAxisIndex: 1, yAxisIndex: 1, barWidth: 4, z: 2,
    data: qqeHist.map((v, i) => (v == null ? null : { value: [i, v], itemStyle: { color: histColor(i) } })),
    markLine: {
      silent: true, symbol: ["none", "none"], label: { show: false }, animation: false,
      data: [
        ...vLines.map((v) => ({ ...v, lineStyle: dotted })),
        { yAxis: 0, lineStyle: { color: "#A8A8A8", type: [3, 3], width: 1 } },
      ],
    },
  });
  series.push({ type: "line", xAxisIndex: 1, yAxisIndex: 1, data: qqeSlow, symbol: "none", z: 3, lineStyle: { color: COL.slow, width: 2 } });
  series.push({ type: "line", xAxisIndex: 1, yAxisIndex: 1, data: qqeFast, symbol: "none", z: 4, lineStyle: { color: COL.fast, width: 2 } });

  const pieces: any[] = [];
  for (let k = 0; k <= maTurns.length; k++) {
    const p: any = { color: k % 2 === 0 ? COL.maUp : COL.maDown };
    if (k > 0) p.gte = maTurns[k - 1];
    if (k < maTurns.length) p.lt = maTurns[k];
    pieces.push(p);
  }

  const axisFont = { fontFamily: "DejaVu Sans", fontSize: 15, color: "#000" };

  return {
    animation: false,
    backgroundColor: BG,
    grid: [
      { left: 2, top: 2, width: 2638, height: 1194, show: true, borderColor: "#000", borderWidth: 1, backgroundColor: "transparent" },
      { left: 2, top: 1198, width: 2638, height: 339, show: true, borderColor: "#000", borderWidth: 1, backgroundColor: "transparent" },
    ],
    xAxis: [
      { gridIndex: 0, type: "value", min: XMIN, max: XMAX, axisLine: { show: false }, axisTick: { show: false }, axisLabel: { show: false }, splitLine: { show: false } },
      { gridIndex: 1, type: "value", min: XMIN, max: XMAX, position: "bottom",
        axisLine: { show: false }, splitLine: { show: false },
        axisTick: { show: true, customValues: dateLabelBars, length: 5, lineStyle: { color: "#000" } },
        axisLabel: { customValues: dateLabelBars, align: "left", margin: 7, fontFamily: "Liberation Sans", fontSize: 17, color: "#000",
          formatter: (v: number) => { const k = dateLabelBars.indexOf(Math.round(v)); return k >= 0 ? dateLabels[k] : ""; } } },
    ],
    yAxis: [
      { gridIndex: 0, type: "value", position: "right", min: PMIN, max: PMAX,
        axisLine: { show: false }, splitLine: { show: false },
        axisTick: { show: true, customValues: priceTicks, length: 5, lineStyle: { color: "#000" } },
        axisLabel: { ...axisFont, customValues: [...priceTicks, lastPrice], margin: 7, align: "left",
          formatter: (v: number) => Math.abs(v - lastPrice) < 1e-6 ? "{cur|" + lastPrice.toFixed(4) + "}" : v.toFixed(4),
          rich: { cur: { color: "#fff", backgroundColor: "#000", padding: [2, 5, 1, 4], fontFamily: "DejaVu Sans", fontSize: 15 } } } },
      { gridIndex: 1, type: "value", position: "right", min: QMIN, max: QMAX,
        axisLine: { show: false }, splitLine: { show: false },
        axisTick: { show: true, customValues: qqeTicks, length: 5, lineStyle: { color: "#000" } },
        axisLabel: { ...axisFont, customValues: qqeTicks, margin: 7, align: "left",
          formatter: (v: number) => v > 1 ? "{top|" + QMAX.toFixed(5) + "}" : v < -1 ? "{bot|" + QMIN.toFixed(5) + "}" : "0.00000",
          rich: { top: { padding: [20, 0, 0, 0], ...axisFont }, bot: { padding: [0, 0, 28, 0], ...axisFont } } } },
    ],
    visualMap: [{ type: "piecewise", show: false, dimension: 0, seriesIndex: maIndex, pieces }],
    graphic: [
      { type: "text", x: 13, y: 16, z: 100, style: { text: titleText, fill: "#000", font: '18.5px "Liberation Sans"', verticalAlign: "middle" } },
      { type: "text", x: 5, y: 1213, z: 100, style: { text: qqeTitle, fill: "#000", font: '18.5px "Liberation Sans"', verticalAlign: "middle" } },
      { type: "text", x: 11, y: 1176, z: 100, style: { text: timerText, fill: "#B22222", font: 'bold 25px "DejaVu Sans"', verticalAlign: "middle" } },
      { type: "text", x: 12, y: 300, z: 1, style: { text: "BUY LIMIT", fill: "#000", font: '18px "Liberation Sans"', verticalAlign: "middle" } },
      { type: "text", x: 14, y: 402, z: 1, style: { text: "SL", fill: "#000", font: '18px "Liberation Sans"', verticalAlign: "middle" } },
      { type: "ellipse", z: 100, shape: { cx: 168, cy: 295, rx: 62, ry: 28 }, style: { fill: "#FCE9A9" } },
      { type: "ellipse", z: 100, shape: { cx: 228, cy: 300, rx: 17, ry: 17 }, style: { fill: "#FCE9A9" } },
      { type: "ellipse", z: 100, shape: { cx: 124, cy: 318, rx: 11, ry: 25 }, style: { fill: "#FCE9A9" } },
      { type: "ellipse", z: 100, shape: { cx: 118, cy: 292, rx: 14, ry: 22 }, style: { fill: "#FCE9A9" } },
    ],
    series,
  };
}

export default function App() {
  const ref = useRef<HTMLDivElement>(null);
  useEffect(() => {
    if (!ref.current) return;
    const chart = echarts.init(ref.current, null, { renderer: "svg" });
    chart.setOption(buildOption() as any);
    return () => chart.dispose();
  }, []);
  return <div ref={ref} style={{ position: "absolute", left: 0, top: 0, width: 2736, height: 1570, background: BG }} />;
}
